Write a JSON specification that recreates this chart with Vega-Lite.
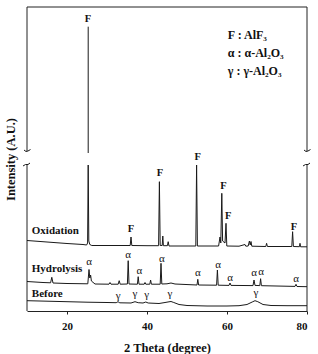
{
  "$schema": "https://vega.github.io/schema/vega-lite/v6.json",
  "width": 280,
  "height": 304,
  "autosize": {"type": "none"},
  "padding": {"left": 27, "top": 7, "right": 11, "bottom": 43},
  "background": "white",
  "config": {"view": {"stroke": null}, "font": "Liberation Serif"},
  "datasets": {
    "traces": [
      {"s": "ox", "t": 10, "v": 70.5}, {"s": "ox", "t": 15, "v": 69}, {"s": "ox", "t": 20, "v": 67.5}, {"s": "ox", "t": 24, "v": 66.5}, {"s": "ox", "t": 24.9, "v": 66},
      {"s": "ox", "t": 25.15, "v": 68}, {"s": "ox", "t": 25.3, "v": 146}, {"s": "ox", "t": 25.45, "v": 70}, {"s": "ox", "t": 25.7, "v": 66.5}, {"s": "ox", "t": 26.2, "v": 65.5},
      {"s": "ox", "t": 30, "v": 65.5}, {"s": "ox", "t": 35.8, "v": 65.5}, {"s": "ox", "t": 36, "v": 74}, {"s": "ox", "t": 36.2, "v": 65.5}, {"s": "ox", "t": 40, "v": 65.3},
      {"s": "ox", "t": 42.9, "v": 65.3}, {"s": "ox", "t": 43.1, "v": 129.3}, {"s": "ox", "t": 43.3, "v": 65.5}, {"s": "ox", "t": 43.8, "v": 65.5}, {"s": "ox", "t": 43.95, "v": 75},
      {"s": "ox", "t": 44.1, "v": 65.3}, {"s": "ox", "t": 45.1, "v": 65.3}, {"s": "ox", "t": 45.3, "v": 69.3}, {"s": "ox", "t": 45.5, "v": 65}, {"s": "ox", "t": 50, "v": 65},
      {"s": "ox", "t": 52.2, "v": 65}, {"s": "ox", "t": 52.4, "v": 146}, {"s": "ox", "t": 52.6, "v": 65}, {"s": "ox", "t": 57.9, "v": 65}, {"s": "ox", "t": 58.25, "v": 74},
      {"s": "ox", "t": 58.45, "v": 68}, {"s": "ox", "t": 58.7, "v": 117.7}, {"s": "ox", "t": 58.9, "v": 70}, {"s": "ox", "t": 59.5, "v": 68}, {"s": "ox", "t": 59.75, "v": 87.7},
      {"s": "ox", "t": 59.95, "v": 65}, {"s": "ox", "t": 63, "v": 64.8}, {"s": "ox", "t": 64.5, "v": 66.5}, {"s": "ox", "t": 64.7, "v": 64.8}, {"s": "ox", "t": 65.3, "v": 65},
      {"s": "ox", "t": 65.6, "v": 70}, {"s": "ox", "t": 65.8, "v": 66}, {"s": "ox", "t": 66.0, "v": 69.5}, {"s": "ox", "t": 66.2, "v": 64.8}, {"s": "ox", "t": 69.7, "v": 64.5},
      {"s": "ox", "t": 69.9, "v": 67.7}, {"s": "ox", "t": 70.1, "v": 64.5}, {"s": "ox", "t": 76.2, "v": 64.5}, {"s": "ox", "t": 76.4, "v": 79.3}, {"s": "ox", "t": 76.6, "v": 64.5},
      {"s": "ox", "t": 78.1, "v": 64.3}, {"s": "ox", "t": 78.25, "v": 67.7}, {"s": "ox", "t": 78.4, "v": 64.2}, {"s": "ox", "t": 80, "v": 64.2},
      {"s": "oxtop", "t": 25.3, "v": 158}, {"s": "oxtop", "t": 25.3, "v": 284.3},
      {"s": "hy", "t": 10, "v": 29.5}, {"s": "hy", "t": 14, "v": 28.5}, {"s": "hy", "t": 15.9, "v": 28.2}, {"s": "hy", "t": 16.2, "v": 33.7}, {"s": "hy", "t": 16.5, "v": 28},
      {"s": "hy", "t": 20, "v": 27.5}, {"s": "hy", "t": 25.2, "v": 27.2}, {"s": "hy", "t": 25.5, "v": 41.5}, {"s": "hy", "t": 25.7, "v": 33}, {"s": "hy", "t": 25.9, "v": 36},
      {"s": "hy", "t": 26.1, "v": 30}, {"s": "hy", "t": 27, "v": 27}, {"s": "hy", "t": 30.5, "v": 26.8}, {"s": "hy", "t": 30.75, "v": 28.5}, {"s": "hy", "t": 31, "v": 26.8},
      {"s": "hy", "t": 32.8, "v": 26.8}, {"s": "hy", "t": 33.05, "v": 30.3}, {"s": "hy", "t": 33.3, "v": 26.8}, {"s": "hy", "t": 35.1, "v": 27}, {"s": "hy", "t": 35.3, "v": 50.3},
      {"s": "hy", "t": 35.5, "v": 27}, {"s": "hy", "t": 37.6, "v": 26.8}, {"s": "hy", "t": 37.8, "v": 34.3}, {"s": "hy", "t": 38.0, "v": 26.8}, {"s": "hy", "t": 39.3, "v": 26.8},
      {"s": "hy", "t": 39.5, "v": 28.5}, {"s": "hy", "t": 39.7, "v": 26.8}, {"s": "hy", "t": 40.7, "v": 26.8}, {"s": "hy", "t": 40.9, "v": 31}, {"s": "hy", "t": 41.1, "v": 26.8},
      {"s": "hy", "t": 43.3, "v": 26.8}, {"s": "hy", "t": 43.5, "v": 47.7}, {"s": "hy", "t": 43.7, "v": 27}, {"s": "hy", "t": 45, "v": 27.2}, {"s": "hy", "t": 46, "v": 28},
      {"s": "hy", "t": 47, "v": 27}, {"s": "hy", "t": 52.5, "v": 26}, {"s": "hy", "t": 52.7, "v": 31.7}, {"s": "hy", "t": 52.9, "v": 26}, {"s": "hy", "t": 57.4, "v": 25.8},
      {"s": "hy", "t": 57.6, "v": 41}, {"s": "hy", "t": 57.8, "v": 25.8}, {"s": "hy", "t": 60.5, "v": 25.6}, {"s": "hy", "t": 60.75, "v": 28}, {"s": "hy", "t": 61, "v": 25.6},
      {"s": "hy", "t": 66.5, "v": 25.4}, {"s": "hy", "t": 66.75, "v": 31}, {"s": "hy", "t": 67, "v": 25.6}, {"s": "hy", "t": 68.2, "v": 25.4}, {"s": "hy", "t": 68.4, "v": 32.3},
      {"s": "hy", "t": 68.6, "v": 25.3}, {"s": "hy", "t": 77, "v": 24.6}, {"s": "hy", "t": 77.25, "v": 26.7}, {"s": "hy", "t": 77.5, "v": 24.5}, {"s": "hy", "t": 80, "v": 24.3},
      {"s": "be", "t": 10, "v": 10.3}, {"s": "be", "t": 15, "v": 9.8}, {"s": "be", "t": 20, "v": 9.3}, {"s": "be", "t": 25, "v": 8.8}, {"s": "be", "t": 30, "v": 8.5},
      {"s": "be", "t": 32.3, "v": 8.3}, {"s": "be", "t": 32.75, "v": 9.3}, {"s": "be", "t": 33.2, "v": 8.2}, {"s": "be", "t": 36, "v": 8}, {"s": "be", "t": 37, "v": 9.3},
      {"s": "be", "t": 37.8, "v": 8.3}, {"s": "be", "t": 39, "v": 8}, {"s": "be", "t": 39.7, "v": 9}, {"s": "be", "t": 40.3, "v": 8}, {"s": "be", "t": 43, "v": 7.5},
      {"s": "be", "t": 44.5, "v": 8.5}, {"s": "be", "t": 45.5, "v": 9.2}, {"s": "be", "t": 46, "v": 9.5}, {"s": "be", "t": 46.7, "v": 8.5}, {"s": "be", "t": 48, "v": 6.5},
      {"s": "be", "t": 50, "v": 5.5}, {"s": "be", "t": 55, "v": 5}, {"s": "be", "t": 60, "v": 5}, {"s": "be", "t": 63, "v": 5.3}, {"s": "be", "t": 65, "v": 6.5},
      {"s": "be", "t": 66.3, "v": 9}, {"s": "be", "t": 67, "v": 10.3}, {"s": "be", "t": 67.7, "v": 9.3}, {"s": "be", "t": 69, "v": 6.5}, {"s": "be", "t": 71, "v": 5.5},
      {"s": "be", "t": 75, "v": 5.3}, {"s": "be", "t": 80, "v": 5.3},
      {"s": "h1", "t": 9.25, "v": 161}, {"s": "h1", "t": 9.75, "v": 159.5}, {"s": "h1", "t": 10.25, "v": 160}, {"s": "h1", "t": 10.875, "v": 161.5},
      {"s": "h2", "t": 9.0, "v": 145}, {"s": "h2", "t": 9.625, "v": 146.5}, {"s": "h2", "t": 10.25, "v": 146.5}, {"s": "h2", "t": 10.75, "v": 148},
      {"s": "h3", "t": 79.25, "v": 161}, {"s": "h3", "t": 79.75, "v": 159.5}, {"s": "h3", "t": 80.25, "v": 160}, {"s": "h3", "t": 80.875, "v": 161.5},
      {"s": "h4", "t": 79.0, "v": 145}, {"s": "h4", "t": 79.625, "v": 146.5}, {"s": "h4", "t": 80.25, "v": 146.5}, {"s": "h4", "t": 80.75, "v": 148}
    ],
    "frame": [
      {"t": 10, "t2": 80, "v": 304, "v2": 304},
      {"t": 10, "t2": 10, "v": 0, "v2": 146},
      {"t": 10, "t2": 10, "v": 160, "v2": 304},
      {"t": 80, "t2": 80, "v": 0, "v2": 146},
      {"t": 80, "t2": 80, "v": 160, "v2": 304}
    ],
    "peaks": [
      {"lab": "F", "t": 25.25, "v": 292, "k": "F"},
      {"lab": "F", "t": 36, "v": 81.7, "k": "F"},
      {"lab": "F", "t": 43.25, "v": 137.7, "k": "F"},
      {"lab": "F", "t": 52.7, "v": 153.7, "k": "F"},
      {"lab": "F", "t": 59.1, "v": 125, "k": "F"},
      {"lab": "F", "t": 60.3, "v": 95, "k": "F"},
      {"lab": "F", "t": 76.75, "v": 84.3, "k": "F"},
      {"lab": "α", "t": 25.5, "v": 48.7, "k": "a"},
      {"lab": "α", "t": 35.3, "v": 56, "k": "a"},
      {"lab": "α", "t": 38.1, "v": 40.3, "k": "a"},
      {"lab": "α", "t": 43.7, "v": 51.7, "k": "a"},
      {"lab": "α", "t": 52.7, "v": 37.7, "k": "a"},
      {"lab": "α", "t": 57.8, "v": 46, "k": "a"},
      {"lab": "α", "t": 60.75, "v": 33.3, "k": "a"},
      {"lab": "α", "t": 66.75, "v": 37.7, "k": "a"},
      {"lab": "α", "t": 68.5, "v": 39.3, "k": "a"},
      {"lab": "α", "t": 77.25, "v": 31.7, "k": "a"},
      {"lab": "γ", "t": 32.8, "v": 15.3, "k": "g"},
      {"lab": "γ", "t": 37, "v": 16.7, "k": "g"},
      {"lab": "γ", "t": 39.9, "v": 15.7, "k": "g"},
      {"lab": "γ", "t": 45.75, "v": 17, "k": "g"},
      {"lab": "γ", "t": 67.25, "v": 18.3, "k": "g"}
    ],
    "names": [
      {"lab": "Oxidation", "t": 11.2, "v": 80.3},
      {"lab": "Hydrolysis", "t": 11.2, "v": 41.7},
      {"lab": "Before", "t": 11.2, "v": 17}
    ],
    "legend": [
      {"lab": "F : AlF₃", "t": 60.2, "v": 276},
      {"lab": "α : α-Al₂O₃", "t": 60.2, "v": 258},
      {"lab": "γ : γ-Al₂O₃", "t": 60.2, "v": 240}
    ]
  },
  "layer": [
    {
      "data": {"name": "frame"},
      "mark": {"type": "rule", "color": "#222", "strokeWidth": 1},
      "encoding": {
        "x": {"field": "t", "type": "quantitative", "scale": {"domain": [10, 80], "nice": false, "zero": false},
          "axis": {"values": [20, 40, 60, 80], "title": "2 Theta (degree)", "grid": false,
            "labelFont": "Liberation Serif", "labelFontSize": 11, "labelFontWeight": "bold", "labelColor": "#111",
            "tickSize": 3, "tickColor": "#222", "domainColor": "#222", "labelPadding": 6,
            "titleFont": "Liberation Serif", "titleFontSize": 12.5, "titleFontWeight": "bold", "titleColor": "#111",
            "titleY": 36, "titleBaseline": "middle"}},
        "x2": {"field": "t2"},
        "y": {"field": "v", "type": "quantitative", "scale": {"domain": [0, 304], "nice": false, "zero": false},
          "axis": {"title": "Intensity (A.U.)", "grid": false, "domain": false, "ticks": false, "labels": false,
            "titleFont": "Liberation Serif", "titleFontSize": 12.5, "titleFontWeight": "bold", "titleColor": "#111",
            "titleX": -17, "titleY": 152, "titleAngle": -90, "titleBaseline": "middle", "titleAlign": "center"}},
        "y2": {"field": "v2"}
      }
    },
    {
      "data": {"name": "traces"},
      "mark": {"type": "line", "color": "#1a1a1a", "strokeWidth": 1},
      "encoding": {
        "x": {"field": "t", "type": "quantitative"},
        "y": {"field": "v", "type": "quantitative"},
        "detail": {"field": "s"}
      }
    },
    {
      "data": {"name": "peaks"},
      "transform": [{"filter": "datum.k == 'F'"}],
      "mark": {"type": "text", "font": "Liberation Serif", "fontSize": 10.5, "fontWeight": "bold", "color": "#111", "baseline": "middle", "align": "center"},
      "encoding": {
        "x": {"field": "t", "type": "quantitative"},
        "y": {"field": "v", "type": "quantitative"},
        "text": {"field": "lab"}
      }
    },
    {
      "data": {"name": "peaks"},
      "transform": [{"filter": "datum.k != 'F'"}],
      "mark": {"type": "text", "font": "Liberation Serif", "fontSize": 11, "color": "#111", "baseline": "middle", "align": "center"},
      "encoding": {
        "x": {"field": "t", "type": "quantitative"},
        "y": {"field": "v", "type": "quantitative"},
        "text": {"field": "lab"}
      }
    },
    {
      "data": {"name": "names"},
      "mark": {"type": "text", "font": "Liberation Serif", "fontSize": 11, "fontWeight": "bold", "color": "#111", "baseline": "middle", "align": "left"},
      "encoding": {
        "x": {"field": "t", "type": "quantitative"},
        "y": {"field": "v", "type": "quantitative"},
        "text": {"field": "lab"}
      }
    },
    {
      "data": {"name": "legend"},
      "mark": {"type": "text", "font": "Liberation Serif", "fontSize": 12, "fontWeight": "bold", "color": "#111", "baseline": "middle", "align": "left"},
      "encoding": {
        "x": {"field": "t", "type": "quantitative"},
        "y": {"field": "v", "type": "quantitative"},
        "text": {"field": "lab"}
      }
    }
  ]
}
